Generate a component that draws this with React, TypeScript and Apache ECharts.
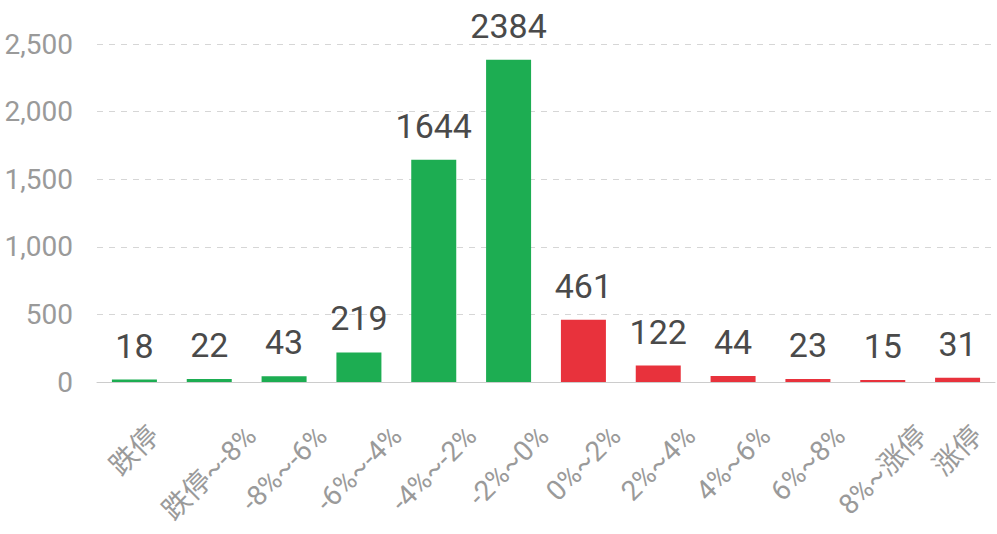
import React, { useEffect, useRef } from "react";
import * as echarts from "echarts";

const categories = ["跌停", "跌停~-8%", "-8%~-6%", "-6%~-4%", "-4%~-2%", "-2%~0%", "0%~2%", "2%~4%", "4%~6%", "6%~8%", "8%~涨停", "涨停"];
const counts = [18, 22, 43, 219, 1644, 2384, 461, 122, 44, 23, 15, 31];
const directions = ["down", "down", "down", "down", "down", "down", "up", "up", "up", "up", "up", "up"];
const yMin = 0;
const yMax = 2500;
const yInterval = 500;

const GREEN = "#1dad52";
const RED = "#e8323c";
const FONT = "Roboto, 'Noto Sans CJK SC', sans-serif";
const XFS = 28;
const XCOLOR = "#9a9a9a";

function measure(text: string, size: number): number {
  const c = document.createElement("canvas");
  const ctx = c.getContext("2d");
  if (!ctx) return text.length * size * 0.6;
  ctx.font = `${size}px ${FONT}`;
  return ctx.measureText(text).width;
}

// Rotated (45°) labels are right-aligned at the anchor by ECharts; padding moves
// each label so that it is centred under its bar with its top edge on one line.
function labelPadding(L: number): number[] {
  const targetDrop = 49 - 0.3535 * L; // anchor sits on the axis (margin 0)
  const padR = Math.max(0, targetDrop / 1.414);
  const padT = 2 * padR + L;
  return [padT, padR, 0, 0];
}

export default function App() {
  const ref = useRef<HTMLDivElement>(null);
  useEffect(() => {
    if (!ref.current) return;
    const chart = echarts.init(ref.current, undefined, { renderer: "svg" });
    const rich: Record<string, any> = {};
    categories.forEach((c, i) => {
      rich["p" + i] = {
        padding: labelPadding(measure(c, XFS)),
        fontSize: XFS,
        fontFamily: FONT,
        color: XCOLOR,
      };
    });
    chart.setOption({
      animation: false,
      grid: { left: 97, right: 2, top: 44, bottom: 152, containLabel: false, outerBoundsMode: "none" },
      xAxis: {
        type: "category",
        data: categories,
        axisLine: { show: true, lineStyle: { color: "#cccccc", width: 1 } },
        axisTick: { show: false },
        axisLabel: {
          rotate: 45,
          interval: 0,
          hideOverlap: false,
          margin: 0,
          color: XCOLOR,
          fontSize: XFS,
          fontFamily: FONT,
          formatter: (v: string, i: number) => `{p${i}|${v}}`,
          rich,
        },
      },
      yAxis: {
        type: "value",
        min: yMin,
        max: yMax,
        interval: yInterval,
        axisLine: { show: false },
        axisTick: { show: false },
        splitLine: { show: true, lineStyle: { color: "#d6d6d6", type: [6, 6], width: 1 } },
        axisLabel: {
          margin: 24,
          color: "#9a9a9a",
          fontSize: 28,
          fontFamily: FONT,
          formatter: (v: number) => v.toLocaleString("en-US"),
        },
      },
      series: [
        {
          type: "bar",
          barWidth: 45,
          data: counts.map((v, i) => ({
            value: v,
            itemStyle: { color: directions[i] === "down" ? GREEN : RED },
          })),
          label: {
            show: true,
            position: "top",
            distance: 17,
            color: "#4a4a4a",
            fontSize: 34,
            fontFamily: FONT,
          },
        },
      ],
    });
    return () => chart.dispose();
  }, []);
  return <div ref={ref} style={{ position: "fixed", left: 0, top: 0, width: 997, height: 534, background: "#fff" }} />;
}
